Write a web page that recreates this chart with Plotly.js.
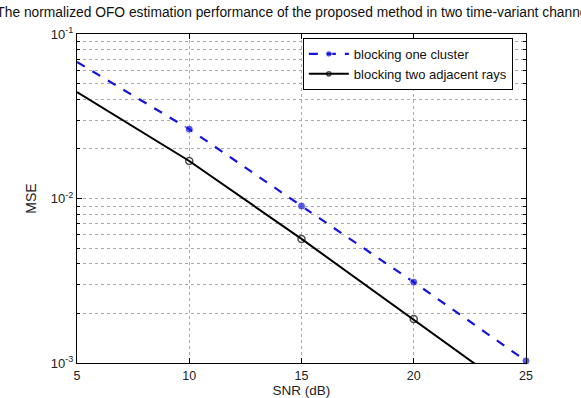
<!DOCTYPE html>
<html>
<head>
<meta charset="utf-8">
<script src="https://cdn.plot.ly/plotly-3.0.1.min.js"></script>
<style>html,body{margin:0;padding:0;background:#fff;}#chart{width:581px;height:398px;}</style>
</head>
<body>
<div id="chart"></div>
<script>
var snr = [5, 10, 15, 20, 25];
var mseCluster = [0.0676, 0.0264, 0.0090, 0.0031, 0.00103];
var mseRays = [0.0444, 0.0169, 0.00568, 0.00185, 0.00059];
var seriesNames = ["blocking one cluster", "blocking two adjacent rays"];
var xTicks = [5, 10, 15, 20, 25];
var yTicks = [0.001, 0.01, 0.1];
var yTickText = ["10<sup>-3</sup>", "10<sup>-2</sup>", "10<sup>-1</sup>"];
var yMinor = [0.002, 0.003, 0.004, 0.005, 0.006, 0.007, 0.008, 0.009,
              0.02, 0.03, 0.04, 0.05, 0.06, 0.07, 0.08, 0.09];

var font = "Liberation Sans, Arial, sans-serif";

var traces = [
  {
    x: snr, y: mseCluster, name: seriesNames[0], type: "scatter", mode: "lines+markers",
    line: {color: "#1414dc", width: 2.2, dash: "dash"},
    marker: {color: "#1414dc", size: [0, 8, 8, 8, 8], symbol: "circle"},
    cliponaxis: false
  },
  {
    x: snr, y: mseRays, name: seriesNames[1], type: "scatter", mode: "lines+markers",
    line: {color: "#000000", width: 2},
    marker: {color: "#000000", size: [0, 7, 7, 7, 0], symbol: "circle-open", line: {color: "#000", width: 1.5}},
    cliponaxis: false
  }
];

var layout = {
  width: 581, height: 398,
  margin: {l: 77, r: 55, t: 34, b: 35},
  paper_bgcolor: "#ffffff", plot_bgcolor: "#ffffff",
  font: {family: font, size: 12, color: "#222"},
  title: {text: "The normalized OFO estimation performance of the proposed method in two time-variant channels",
          font: {family: font, size: 13.8, color: "#111"}, x: 0.511, xanchor: "center", y: 0.97, yanchor: "middle"},
  showlegend: true,
  legend: {x: 0.503, y: 0.988, xanchor: "left", yanchor: "top", bgcolor: "#fff", bordercolor: "#000", borderwidth: 1,
           font: {family: font, size: 13, color: "#111"}, tracegroupgap: 0, itemwidth: 40},
  xaxis: {
    range: [5, 25], tickvals: xTicks, ticktext: xTicks.map(String),
    showline: true, linecolor: "#000", linewidth: 1, mirror: "allticks",
    ticks: "inside", ticklen: 5, tickcolor: "#000", ticklabelstandoff: 1,
    showgrid: true, gridcolor: "#aaa", griddash: "dot", gridwidth: 1,
    zeroline: false, tickfont: {family: font, size: 12.5, color: "#222"},
    title: {text: "SNR (dB)", font: {family: font, size: 13.5, color: "#222"}, standoff: 7}
  },
  yaxis: {
    type: "log", range: [-3, -1], tickvals: yTicks, ticktext: yTickText,
    showline: true, linecolor: "#000", linewidth: 1, mirror: "allticks",
    ticks: "inside", ticklen: 5, tickcolor: "#000",
    showgrid: true, gridcolor: "#aaa", griddash: "dot", gridwidth: 1,
    minor: {tickvals: yMinor, ticks: "inside", ticklen: 3, tickcolor: "#000", showgrid: true, gridcolor: "#aaa", griddash: "dot", gridwidth: 1},
    zeroline: false, tickfont: {family: font, size: 13, color: "#222"},
    title: {text: "MSE", font: {family: font, size: 14, color: "#222"}, standoff: 10}
  }
};

Plotly.newPlot("chart", traces, layout, {displayModeBar: false, staticPlot: true});
</script>
</body>
</html>
